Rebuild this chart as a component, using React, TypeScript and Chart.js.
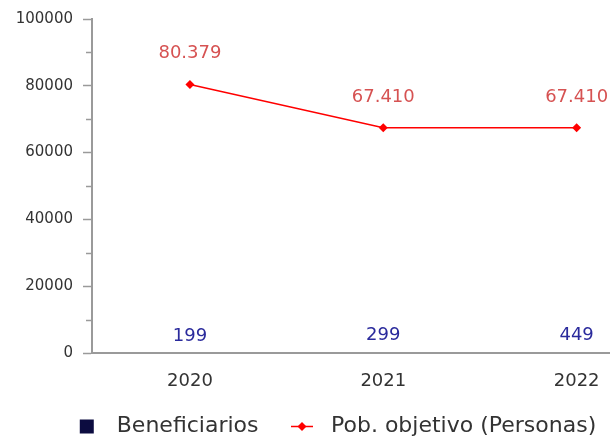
import React, { useEffect, useRef } from "react";
import { Chart, registerables } from "chart.js";

Chart.register(...registerables);

const categories = ["2020", "2021", "2022"];
const beneficiarios = [199, 299, 449];
const poblacionObjetivo = [80379, 67410, 67410];
const yLabeledTicks = [0, 20000, 40000, 60000, 80000, 100000];
const seriesNames = ["Beneficiarios", "Pob. objetivo (Personas)"];

const FONT = "'DejaVu Sans', sans-serif";
const AXIS = "#9a9a9a";
const LEGEND_BOX = 60;

function fmt(n: number): string {
  return String(n).replace(/\B(?=(\d{3})+(?!\d))/g, ".");
}

const extrasPlugin = {
  id: "extras",
  afterLayout(chart: any) {
    const lg = chart.legend;
    if (lg) {
      lg.left += 15;
      lg.right += 15;
    }
  },
  afterDatasetsDraw(chart: any) {
    const ctx = chart.ctx;
    ctx.save();
    ctx.textAlign = "center";
    ctx.textBaseline = "middle";
    ctx.font = `18px ${FONT}`;
    ctx.fillStyle = "#d65252";
    chart.getDatasetMeta(1).data.forEach((pt: any, i: number) => {
      ctx.fillText(fmt(poblacionObjetivo[i]), pt.x, pt.y - 31);
    });
    ctx.fillStyle = "#2a2a9c";
    chart.getDatasetMeta(0).data.forEach((bar: any, i: number) => {
      ctx.fillText(fmt(beneficiarios[i]), bar.x, bar.y - 16.5);
    });
    ctx.restore();
  },
  afterDraw(chart: any) {
    const ctx = chart.ctx;
    const ys = chart.scales.y;
    ctx.save();
    ctx.strokeStyle = AXIS;
    ctx.lineWidth = 1.5;
    ys.ticks.forEach((t: any) => {
      if (!yLabeledTicks.includes(t.value)) {
        const py = Math.round(ys.getPixelForValue(t.value)) + 0.5;
        ctx.beginPath();
        ctx.moveTo(ys.right - 6, py);
        ctx.lineTo(ys.right, py);
        ctx.stroke();
      }
    });
    const hb = chart.legend.legendHitBoxes;
    if (hb && hb.length === 2) {
      const a = hb[0];
      const cy0 = a.top + a.height / 2;
      ctx.fillStyle = "#0c0c40";
      ctx.fillRect(a.left + 34, cy0 - 7, 14, 14);
      const b = hb[1];
      const cy1 = b.top + b.height / 2;
      ctx.strokeStyle = "#ff0000";
      ctx.lineWidth = 1.5;
      ctx.beginPath();
      ctx.moveTo(b.left + 31, cy1);
      ctx.lineTo(b.left + 53, cy1);
      ctx.stroke();
      ctx.fillStyle = "#ff0000";
      const cx = b.left + 42;
      ctx.beginPath();
      ctx.moveTo(cx, cy1 - 4.5);
      ctx.lineTo(cx + 4.5, cy1);
      ctx.lineTo(cx, cy1 + 4.5);
      ctx.lineTo(cx - 4.5, cy1);
      ctx.closePath();
      ctx.fill();
    }
    ctx.restore();
  },
};

export default function App() {
  const ref = useRef<HTMLCanvasElement | null>(null);

  useEffect(() => {
    if (!ref.current) return;
    const chart = new Chart(ref.current, {
      type: "bar",
      data: {
        datasets: [
          {
            type: "bar",
            label: seriesNames[0],
            data: beneficiarios.map((v, i) => ({ x: i, y: v })),
            backgroundColor: "#0c0c40",
            clip: { left: 0, top: 0, right: 0, bottom: -2 },
            order: 2,
          },
          {
            type: "line",
            label: seriesNames[1],
            data: poblacionObjetivo.map((v, i) => ({ x: i, y: v })),
            borderColor: "#ff0000",
            backgroundColor: "#ff0000",
            borderWidth: 1.5,
            pointStyle: "rectRot",
            pointRadius: 4.5,
            pointBorderWidth: 0,
            tension: 0,
            order: 1,
          },
        ],
      } as any,
      options: {
        animation: false,
        responsive: false,
        layout: { padding: { left: 0, right: 2, top: 18, bottom: 0 } },
        scales: {
          x: {
            type: "linear",
            min: -0.5065,
            max: 2.17,
            offset: false,
            afterBuildTicks: (scale: any) => {
              scale.ticks = categories.map((_, i) => ({ value: i }));
            },
            afterFit: (scale: any) => {
              scale.height = 61;
            },
            ticks: {
              autoSkip: false,
              padding: 0,
              color: "#333",
              font: { family: FONT, size: 18 },
              callback: (v: any) => categories[v] ?? "",
            },
            grid: {
              display: true,
              drawOnChartArea: false,
              drawTicks: true,
              tickLength: 18,
              tickColor: "rgba(0,0,0,0)",
              offset: false,
            },
            border: { display: true, color: AXIS, width: 2, z: 1 },
          },
          y: {
            min: 0,
            max: 100000,
            afterFit: (scale: any) => {
              scale.width = 92;
            },
            ticks: {
              stepSize: 10000,
              autoSkip: false,
              padding: 10,
              color: "#333",
              font: { family: FONT, size: 15 },
              callback: (v: any) => (yLabeledTicks.includes(v) ? String(v) : ""),
            },
            grid: {
              drawOnChartArea: false,
              drawTicks: true,
              tickLength: 9,
              tickWidth: 1.5,
              tickColor: (c: any) =>
                c.tick && yLabeledTicks.includes(c.tick.value) ? AXIS : "rgba(0,0,0,0)",
            },
            border: { display: true, color: AXIS, width: 2, z: 1 },
          },
        },
        plugins: {
          legend: {
            position: "bottom",
            maxHeight: 24,
            labels: {
              padding: 1.5,
              boxWidth: LEGEND_BOX,
              color: "#333",
              font: { family: FONT, size: 22 },
              generateLabels: () =>
                seriesNames.map((t, i) => ({
                  text: t,
                  fillStyle: "rgba(0,0,0,0)",
                  strokeStyle: "rgba(0,0,0,0)",
                  lineWidth: 0,
                  hidden: false,
                  datasetIndex: i,
                  fontColor: "#333",
                })),
            },
          },
          tooltip: { enabled: false },
        },
      } as any,
      plugins: [extrasPlugin],
    });
    return () => chart.destroy();
  }, []);

  return (
    <div style={{ position: "absolute", left: 0, top: 0, width: 614, height: 438, background: "#fff" }}>
      <canvas ref={ref} width={614} height={438} style={{ display: "block" }} />
    </div>
  );
}
